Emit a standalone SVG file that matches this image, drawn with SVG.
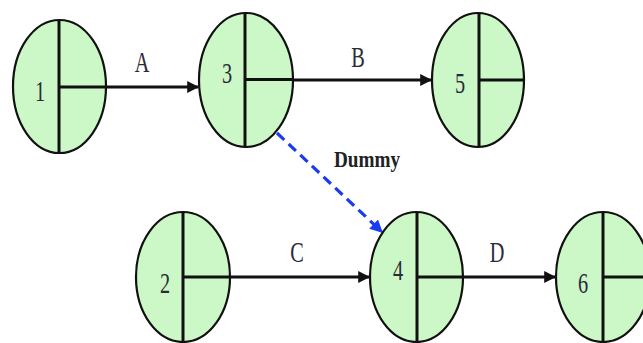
<svg xmlns="http://www.w3.org/2000/svg" width="643" height="343" viewBox="0 0 643 343">
<defs>
<style>
.node ellipse{fill:#ccf7c6;stroke:#111;stroke-width:2.2}
.node line{stroke:#111;stroke-width:3}
.lbl{font-family:"Liberation Serif","DejaVu Serif",serif;font-size:29px;fill:#2a2a3a;text-anchor:middle}
.edge{stroke:#111;stroke-width:3;fill:none}
.dummy{stroke:#1a3cf0;stroke-width:3.2;fill:none;stroke-dasharray:10 6}
.dl{font-family:"Liberation Serif","DejaVu Serif",serif;font-size:24px;font-weight:bold;fill:#222;text-anchor:middle}
</style>
<marker id="ah" viewBox="0 0 10 10" refX="9" refY="5" markerWidth="4" markerHeight="4" orient="auto" markerUnits="strokeWidth">
<path d="M0,0 L10,5 L0,10 z" fill="#111"/>
</marker>
<marker id="ahb" viewBox="0 0 10 10" refX="9" refY="5" markerWidth="4" markerHeight="4" orient="auto" markerUnits="strokeWidth">
<path d="M0,0 L10,5 L0,10 z" fill="#1a3cf0"/>
</marker>
</defs>
<rect width="643" height="343" fill="#fff"/>
<g id="connectors">
<line class="edge" x1="106" y1="87" x2="198" y2="87" marker-end="url(#ah)"/>
<line class="edge" x1="293" y1="80" x2="431" y2="80" marker-end="url(#ah)"/>
<line class="edge" x1="230" y1="277" x2="369" y2="277" marker-end="url(#ah)"/>
<line class="edge" x1="463" y1="277" x2="555" y2="277" marker-end="url(#ah)"/>
<line class="dummy" x1="277" y1="133" x2="382" y2="232" marker-end="url(#ahb)"/>
<text class="lbl" transform="translate(142,72) scale(0.7,1)">A</text>
<text class="lbl" transform="translate(358,67) scale(0.7,1)">B</text>
<text class="lbl" transform="translate(297,262) scale(0.7,1)">C</text>
<text class="lbl" transform="translate(497,262) scale(0.7,1)">D</text>
<text class="dl" transform="translate(367,167) scale(0.8,1)">Dummy</text>
</g>
<g id="node1" class="node">
<ellipse cx="59.5" cy="86.5" rx="46.5" ry="66.5"/>
<line x1="59" y1="20" x2="59" y2="153"/>
<line x1="59" y1="87" x2="106" y2="87"/>
<text class="lbl" transform="translate(40,101) scale(0.7,1)">1</text>
</g>
<g id="node3" class="node">
<ellipse cx="246" cy="80" rx="47" ry="67"/>
<line x1="245" y1="13" x2="245" y2="147"/>
<line x1="245" y1="79.5" x2="293" y2="79.5"/>
<text class="lbl" transform="translate(227,83) scale(0.7,1)">3</text>
</g>
<g id="node5" class="node">
<ellipse cx="478" cy="80" rx="46" ry="67"/>
<line x1="479" y1="13" x2="479" y2="147"/>
<line x1="479" y1="80" x2="524" y2="80"/>
<text class="lbl" transform="translate(460,93) scale(0.7,1)">5</text>
</g>
<g id="node2" class="node">
<ellipse cx="183" cy="277" rx="47" ry="65"/>
<line x1="183" y1="212" x2="183" y2="342"/>
<line x1="183" y1="277" x2="230" y2="277"/>
<text class="lbl" transform="translate(165,293) scale(0.7,1)">2</text>
</g>
<g id="node4" class="node">
<ellipse cx="416.5" cy="277" rx="46.5" ry="65"/>
<line x1="417" y1="212" x2="417" y2="342"/>
<line x1="417" y1="277" x2="463" y2="277"/>
<text class="lbl" transform="translate(398,280) scale(0.7,1)">4</text>
</g>
<g id="node6" class="node">
<ellipse cx="603" cy="277" rx="47" ry="65"/>
<line x1="603" y1="212" x2="603" y2="342"/>
<line x1="603" y1="277" x2="650" y2="277"/>
<text class="lbl" transform="translate(583,293) scale(0.7,1)">6</text>
</g>
</svg>
